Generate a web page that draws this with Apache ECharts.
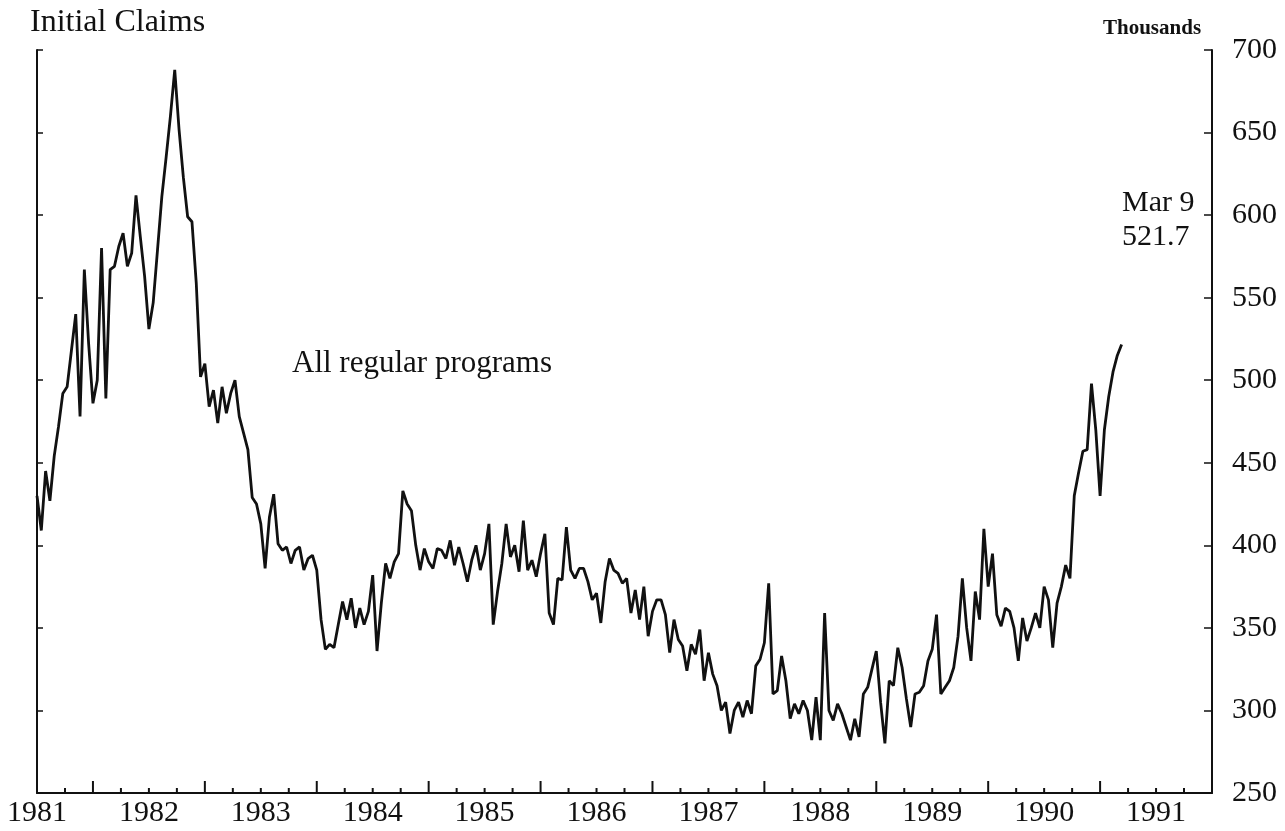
<!DOCTYPE html>
<html>
<head>
<meta charset="utf-8">
<title>Initial Claims</title>
<script src="https://cdn.jsdelivr.net/npm/echarts/dist/echarts.min.js"></script>
<style>
  html, body { margin: 0; padding: 0; background: #fff; }
  #chart { width: 1285px; height: 831px; }
</style>
</head>
<body>
<div id="chart"></div>
<script>
// weekly initial claims, thousands, read every second week
// 1981 starts in July (slot 13 of 26)
const yearLabels = ['1981', '1982', '1983', '1984', '1985', '1986', '1987', '1988', '1989', '1990', '1991'];
const quarterSteps = [0, 0.25, 0.5, 0.75];

const claims1981 = [430, 409, 445, 427, 454, 472, 492, 496, 518, 540, 478, 567, 522];
const claims1982 = [486, 500, 580, 489, 567, 569, 581, 589, 569, 577, 612, 587, 563, 531, 547, 579, 611, 635, 660, 688, 652, 623, 599, 596, 559, 502];
const claims1983 = [510, 484, 494, 474, 496, 480, 492, 500, 478, 468, 458, 429, 425, 413, 386, 417, 431, 401, 397, 399, 389, 397, 399, 385, 392, 394];
const claims1984 = [385, 355, 337, 340, 338, 352, 366, 355, 368, 350, 362, 352, 360, 382, 336, 365, 389, 380, 390, 395, 433, 425, 421, 400, 385, 398];
const claims1985 = [390, 386, 398, 397, 392, 403, 388, 399, 389, 378, 391, 400, 385, 395, 413, 352, 372, 389, 413, 393, 400, 384, 415, 385, 391, 381];
const claims1986 = [395, 407, 359, 352, 380, 379, 411, 385, 380, 386, 386, 378, 367, 371, 353, 378, 392, 385, 383, 377, 380, 359, 373, 355, 375, 345];
const claims1987 = [360, 367, 367, 358, 335, 355, 343, 339, 324, 340, 334, 349, 318, 335, 322, 315, 300, 305, 286, 300, 305, 296, 306, 298, 327, 331];
const claims1988 = [341, 377, 310, 312, 333, 318, 295, 304, 298, 306, 300, 282, 308, 282, 359, 300, 294, 304, 298, 290, 282, 295, 284, 310, 314, 325];
const claims1989 = [336, 305, 280, 318, 315, 338, 326, 307, 290, 310, 311, 315, 330, 337, 358, 310, 314, 318, 326, 345, 380, 350, 330, 372, 355, 410];
const claims1990 = [375, 395, 358, 351, 362, 360, 350, 330, 356, 342, 350, 359, 350, 375, 367, 338, 365, 375, 388, 380, 430, 444, 457, 458, 498, 470];
const claims1991 = [430, 470, 490, 505, 515, 521.7];

const slotsPerYear = 26;
const points = [];
function addYear(year, values, firstSlot) {
    values.forEach(function (v, i) {
        points.push([year + (firstSlot + i) / slotsPerYear, v]);
    });
}
addYear(1981, claims1981, 13);
addYear(1982, claims1982, 0);
addYear(1983, claims1983, 0);
addYear(1984, claims1984, 0);
addYear(1985, claims1985, 0);
addYear(1986, claims1986, 0);
addYear(1987, claims1987, 0);
addYear(1988, claims1988, 0);
addYear(1989, claims1989, 0);
addYear(1990, claims1990, 0);
addYear(1991, claims1991, 0);

// quarter slots for the label axis: 1981Q3 .. 1992Q1
const quarterCats = [];
yearLabels.forEach(function (y) {
    ['Q1', 'Q2', 'Q3', 'Q4'].forEach(function (q) { quarterCats.push(y + q); });
});
quarterCats.push('1992Q1');
const axisCats = quarterCats.slice(2);

// tick positions on the time axis (quarters, year starts drawn taller)
const tickMarks = [];
yearLabels.forEach(function (y) {
    quarterSteps.forEach(function (q) {
        const t = Number(y) + q;
        if (t > 1981.5) tickMarks.push([t, 250]);
    });
});
tickMarks.push([1992, 250]);

const serif = "'Liberation Serif', 'DejaVu Serif', serif";
const ink = '#111';

const chart = echarts.init(document.getElementById('chart'));
const option = {
    animation: false,
    backgroundColor: '#fff',
    textStyle: { fontFamily: serif, color: ink },
    grid: { left: 37, right: 73, top: 50, bottom: 38, outerBoundsMode: 'none' },
    xAxis: [{
        // data axis
        type: 'value',
        min: 1981.5,
        max: 1992,
        axisLine: { show: true, lineStyle: { color: ink, width: 2 } },
        axisTick: { show: false },
        axisLabel: { show: false },
        splitLine: { show: false }
    }, {
        // year labels in mid-year
        type: 'category',
        position: 'bottom',
        boundaryGap: false,
        data: axisCats,
        axisLine: { show: false },
        axisTick: { show: false },
        axisLabel: {
            interval: function (i, v) { return v.slice(4) === 'Q3'; },
            formatter: function (v) { return v.slice(0, 4); },
            fontFamily: serif,
            fontSize: 30,
            color: ink,
            margin: 5
        },
        splitLine: { show: false }
    }],
    yAxis: [{
        type: 'value',
        position: 'left',
        min: 250,
        max: 700,
        interval: 50,
        axisLine: { show: true, lineStyle: { color: ink, width: 2 } },
        axisTick: { show: true, inside: true, length: 6, lineStyle: { color: ink, width: 1.5 } },
        axisLabel: { show: false },
        splitLine: { show: false }
    }, {
        type: 'value',
        position: 'right',
        min: 250,
        max: 700,
        interval: 50,
        axisLine: { show: true, lineStyle: { color: ink, width: 2 } },
        axisTick: { show: true, inside: true, length: 8, lineStyle: { color: ink, width: 1.5 } },
        axisLabel: { fontFamily: serif, fontSize: 30, color: ink, margin: 20 },
        splitLine: { show: false }
    }],
    series: [{
        name: 'All regular programs',
        type: 'line',
        xAxisIndex: 0,
        yAxisIndex: 1,
        data: points,
        symbol: 'none',
        lineStyle: { color: ink, width: 2.8 },
        clip: true
    }, {
        // bottom axis ticks: short at quarters, tall at year starts
        type: 'custom',
        xAxisIndex: 0,
        yAxisIndex: 1,
        silent: true,
        clip: false,
        data: tickMarks,
        renderItem: function (params, api) {
            const t = api.value(0);
            const p = api.coord([t, api.value(1)]);
            const len = Math.abs(t - Math.round(t)) < 1e-6 ? 12 : 5;
            return {
                type: 'line',
                shape: { x1: p[0], y1: p[1], x2: p[0], y2: p[1] - len },
                style: { stroke: ink, lineWidth: 2 }
            };
        }
    }],
    graphic: [
        { type: 'text', style: { text: 'Initial Claims', x: 30, y: 23, textVerticalAlign: 'middle', font: '32px ' + serif, fill: ink } },
        { type: 'text', style: { text: 'Thousands', x: 1103, y: 29, textVerticalAlign: 'middle', font: 'bold 21px ' + serif, fill: ink } },
        { type: 'text', style: { text: 'All regular programs', x: 292, y: 364, textVerticalAlign: 'middle', font: '31px ' + serif, fill: ink } },
        { type: 'text', style: { text: 'Mar 9', x: 1122, y: 203, textVerticalAlign: 'middle', font: '30px ' + serif, fill: ink } },
        { type: 'text', style: { text: '521.7', x: 1122, y: 237, textVerticalAlign: 'middle', font: '30px ' + serif, fill: ink } }
    ]
};
chart.setOption(option);
</script>
</body>
</html>
